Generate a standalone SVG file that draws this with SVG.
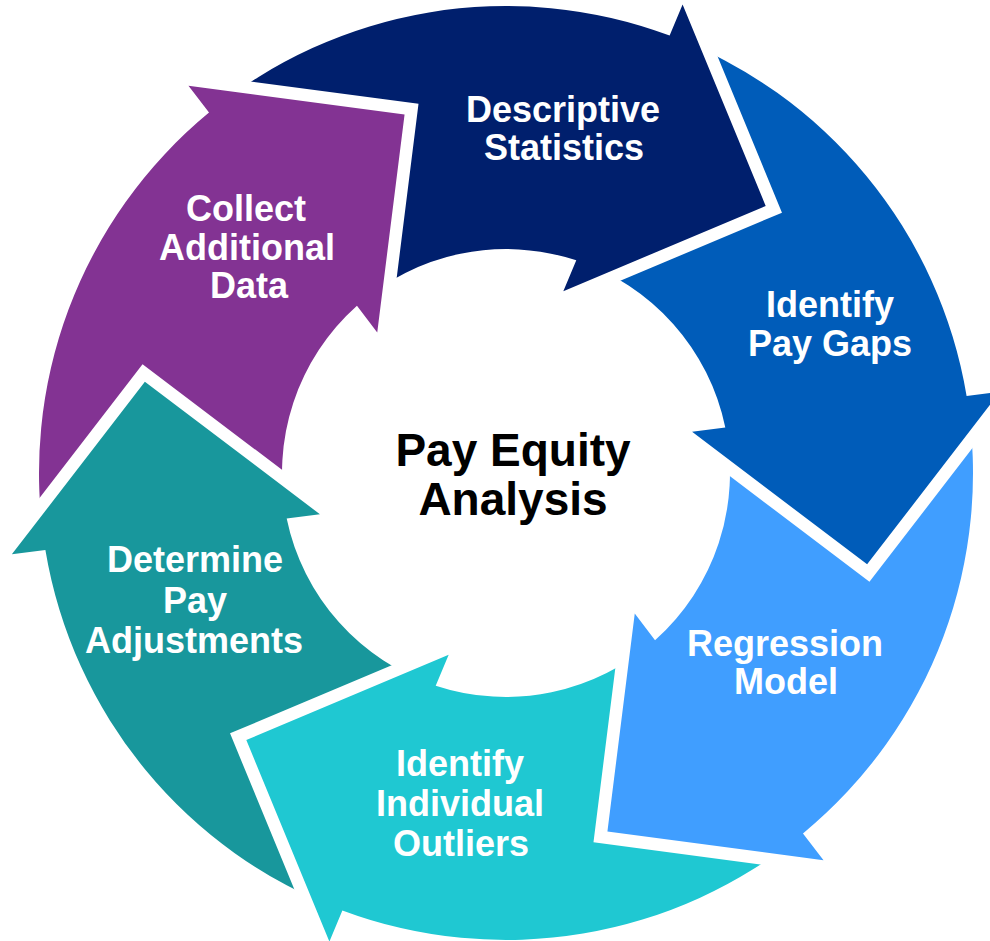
<svg xmlns="http://www.w3.org/2000/svg" xmlns:xlink="http://www.w3.org/1999/xlink" width="990" height="941" viewBox="0 0 990 941">
  <style>
    .label { font-family: "Liberation Sans", Arial, sans-serif; font-weight: bold; font-size: 36px; fill: #ffffff; text-anchor: middle; }
    .title { font-family: "Liberation Sans", Arial, sans-serif; font-weight: bold; font-size: 46px; fill: #000000; text-anchor: middle; }
  </style>
  <defs>
    <!-- One curved arrow segment (60 degrees of the ring) in ring-centred coordinates:
         outer radius 467, inner radius 224, right-angled arrowhead. -->
    <path id="segment" d="M -163.63 437.40 A 467 467 0 0 1 -460.61 76.99 L -494.14 81.37 L -361.12 -91.37 L -186.08 41.25 L -219.32 45.46 A 224 224 0 0 0 -70.29 212.67 Z"/>
    <!-- Cuts the tail of a segment around the preceding arrowhead, leaving a white gap. -->
    <mask id="tailNotch" maskUnits="userSpaceOnUse" x="-600" y="-600" width="1200" height="1200">
      <rect x="-600" y="-600" width="1200" height="1200" fill="#fff"/>
      <polygon points="-494.14,81.37 -361.12,-91.37 -186.08,41.25" transform="rotate(-60)" fill="#000" stroke="#000" stroke-width="25" stroke-linejoin="miter" stroke-miterlimit="10"/>
    </mask>
  </defs>

  <rect width="990" height="941" fill="#ffffff"/>

  <g id="descriptive-statistics">
    <g transform="translate(506 473) rotate(120)"><use xlink:href="#segment" href="#segment" fill="#001F6D" mask="url(#tailNotch)"/></g>
    <text class="label" x="563" y="122">Descriptive</text>
    <text class="label" x="564" y="160">Statistics</text>
  </g>

  <g id="identify-pay-gaps">
    <g transform="translate(506 473) rotate(180)"><use xlink:href="#segment" href="#segment" fill="#005CB9" mask="url(#tailNotch)"/></g>
    <text class="label" x="830" y="317">Identify</text>
    <text class="label" x="830" y="356">Pay Gaps</text>
  </g>

  <g id="regression-model">
    <g transform="translate(506 473) rotate(240)"><use xlink:href="#segment" href="#segment" fill="#409EFF" mask="url(#tailNotch)"/></g>
    <text class="label" x="785" y="656">Regression</text>
    <text class="label" x="786" y="694">Model</text>
  </g>

  <g id="identify-individual-outliers">
    <g transform="translate(506 473) rotate(300)"><use xlink:href="#segment" href="#segment" fill="#1FC8D2" mask="url(#tailNotch)"/></g>
    <text class="label" x="460" y="776">Identify</text>
    <text class="label" x="460" y="816">Individual</text>
    <text class="label" x="461" y="856">Outliers</text>
  </g>

  <g id="determine-pay-adjustments">
    <g transform="translate(506 473)"><use xlink:href="#segment" href="#segment" fill="#18979C" mask="url(#tailNotch)"/></g>
    <text class="label" x="195" y="572">Determine</text>
    <text class="label" x="195" y="613">Pay</text>
    <text class="label" x="194" y="653">Adjustments</text>
  </g>

  <g id="collect-additional-data">
    <g transform="translate(506 473) rotate(60)"><use xlink:href="#segment" href="#segment" fill="#833393" mask="url(#tailNotch)"/></g>
    <text class="label" x="246" y="221">Collect</text>
    <text class="label" x="247" y="260">Additional</text>
    <text class="label" x="249" y="298">Data</text>
  </g>

  <g id="pay-equity-analysis">
    <text class="title" x="513" y="466">Pay Equity</text>
    <text class="title" x="513" y="515">Analysis</text>
  </g>
</svg>
